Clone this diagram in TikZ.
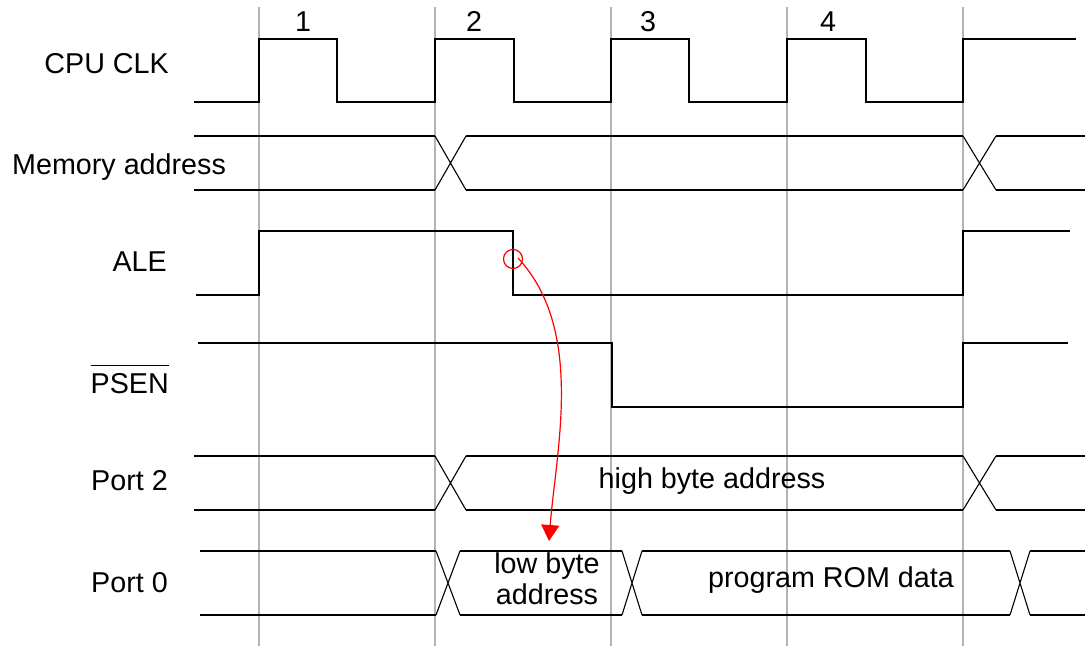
\documentclass[tikz,border=0pt]{standalone}
\usepackage{fontspec}
\setmainfont{Liberation Sans}
\usetikzlibrary{arrows.meta}
\definecolor{gridgray}{RGB}{180,180,180}
\begin{document}
\begin{tikzpicture}[x=1pt,y=-1pt,
  sig/.style={line width=1.6pt, line join=miter},
  xing/.style={line width=1.1pt},
  gridline/.style={line width=1.4pt, draw=gridgray},
  lbl/.style={inner sep=0pt, font=\fontsize{28.7}{33}\selectfont},
  redline/.style={draw=red, line width=1.2pt}]
\useasboundingbox (0,0) rectangle (1085,646);
% grid
\foreach \x in {259,435,611,787,963} \draw[gridline] (\x,7) -- (\x,646);
% cycle numbers
\node[lbl, anchor=base] (n1) at (303,31) {1};
\node[lbl, anchor=base] (n2) at (474,31) {2};
\node[lbl, anchor=base] (n3) at (648,31) {3};
\node[lbl, anchor=base] (n4) at (828,31) {4};
% labels
\node[lbl, anchor=base east] (lclk) at (169,73) {CPU CLK};
\node[lbl, anchor=base west] (lmem) at (12,174) {Memory address};
\node[lbl, anchor=base east] (lale) at (167,271) {ALE};
\node[lbl, anchor=base east] (lpsen) at (169,393) {\vbox{\hrule height 1.6pt\kern 6.5pt\hbox{PSEN}}};
\node[lbl, anchor=base east] (lp2) at (168,490) {Port 2};
\node[lbl, anchor=base east] (lp0) at (168,592) {Port 0};
% CPU CLK
\draw[sig] (194,102) -- (259,102) -- (259,39) -- (337,39) -- (337,102) -- (435,102) -- (435,39) -- (514,39) -- (514,102) -- (611,102) -- (611,39) -- (689,39) -- (689,102) -- (787,102) -- (787,39) -- (866,39) -- (866,102) -- (963,102) -- (963,39) -- (1076,39);
% Memory address
\draw[sig] (194,136) -- (435,136) (194,190) -- (435,190);
\draw[xing] (435,136) -- (466,190) (435,190) -- (466,136);
\draw[sig] (466,136) -- (963,136) (466,190) -- (963,190);
\draw[xing] (963,136) -- (996,190) (963,190) -- (996,136);
\draw[sig] (996,136) -- (1085,136) (996,190) -- (1085,190);
% ALE
\draw[sig] (196,295) -- (259,295) -- (259,231) -- (513,231) -- (513,295) -- (963,295) -- (963,231) -- (1070,231);
% PSEN
\draw[sig] (198,343) -- (612,343) -- (612,407) -- (963,407) -- (963,343) -- (1068,343);
% Port 2
\draw[sig] (194,456) -- (435,456) (194,510) -- (435,510);
\draw[xing] (435,456) -- (466,510) (435,510) -- (466,456);
\draw[sig] (466,456) -- (963,456) (466,510) -- (963,510);
\draw[xing] (963,456) -- (996,510) (963,510) -- (996,456);
\draw[sig] (996,456) -- (1085,456) (996,510) -- (1085,510);
\node[lbl, anchor=base] (thigh) at (712,488) {high byte address};
% Port 0
\draw[sig] (200,551) -- (436,551) (200,615) -- (436,615);
\draw[xing] (436,551) -- (460,615) (436,615) -- (460,551);
\draw[sig] (460,551) -- (622,551) (460,615) -- (622,615);
\draw[xing] (622,551) -- (642,615) (622,615) -- (642,551);
\draw[sig] (642,551) -- (1010,551) (642,615) -- (1010,615);
\draw[xing] (1010,551) -- (1030,615) (1010,615) -- (1030,551);
\draw[sig] (1030,551) -- (1085,551) (1030,615) -- (1085,615);
\node[lbl, anchor=base] (tlow1) at (547,573) {low byte};
\node[lbl, anchor=base] (tlow2) at (547,604) {address};
\node[lbl, anchor=base] (trom) at (831,587) {program ROM data};
% red marker and arrow
\node[circle, redline, minimum size=19pt, inner sep=0pt] (mark) at (513,259) {};
\coordinate (start) at (518,258);
\coordinate (tip) at (549,541);
\draw[redline, -{Triangle[width=18pt,length=16pt]}] (start) .. controls (585,330) and (556,450) .. (tip);
\end{tikzpicture}
\end{document}
